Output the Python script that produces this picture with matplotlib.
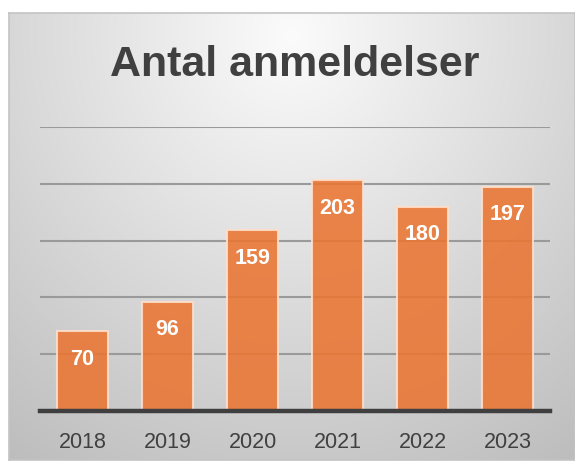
import numpy as np
import matplotlib
matplotlib.use("Agg")
import matplotlib.pyplot as plt

years = ["2018", "2019", "2020", "2021", "2022", "2023"]
counts = [70, 96, 159, 203, 180, 197]
title = "Antal anmeldelser"

W, H = 575, 465
fig = plt.figure(figsize=(W / 100, H / 100), dpi=100)
fig.patch.set_facecolor("white")

# background panel with radial gradient
bx0, by0, bx1, by1 = 9, 13, 575, 460
bg = fig.add_axes([bx0 / W, 1 - by1 / H, (bx1 - bx0) / W, (by1 - by0) / H])
ny, nx = 200, 250
yy, xx = np.mgrid[0:1:ny * 1j, 0:1:nx * 1j]
r = np.sqrt(((xx - 0.5) / 0.75) ** 2 + ((yy - 0.05) / 1.0) ** 2)
v = np.clip(0.985 - 0.21 * r, 0, 1)
img = np.dstack([v, v, v])
bg.imshow(img, aspect="auto", extent=[0, 1, 1, 0], interpolation="bilinear")
bg.set_xticks([]); bg.set_yticks([])
for s in bg.spines.values():
    s.set_color("#c4c4c4"); s.set_linewidth(1.2)

# main axes
L, R, T, B = 40, 550, 127, 411
ax = fig.add_axes([L / W, 1 - B / H, (R - L) / W, (B - T) / H])
ax.patch.set_alpha(0)
x = np.arange(len(years))
ax.set_xlim(-0.5, len(years) - 0.5)
ax.set_ylim(0, 250)
for g in [50, 100, 150, 200, 250]:
    ax.axhline(g, color="#9a9a9a", lw=1.5, zorder=1)
bars = ax.bar(x, counts, width=0.61, color="#EA7532", alpha=0.88,
              edgecolor=(1, 0.88, 0.8, 0.8), linewidth=1.5, zorder=2)
ax.axhline(0, color="#3f3f3f", lw=3.2, zorder=3, clip_on=False)
for xi, c in zip(x, counts):
    ax.annotate(str(c), (xi, c), xytext=(0, -20), textcoords="offset points",
                ha="center", va="center", color="white", fontsize=15.5,
                fontweight="bold", family=["Liberation Sans", "DejaVu Sans"], zorder=4)
ax.set_xticks(x)
ax.set_xticklabels(years, fontsize=15.5, color="#404040",
                   family=["Liberation Sans", "DejaVu Sans"])
ax.tick_params(axis="x", length=0, pad=15)
ax.set_yticks([])
for s in ax.spines.values():
    s.set_visible(False)

fig.text(295 / W, 1 - 65 / H, title, ha="center", va="center",
         fontsize=31, fontweight="bold", color="#404040",
         family=["Liberation Sans", "DejaVu Sans"])

fig.savefig("out.png", dpi=100)
